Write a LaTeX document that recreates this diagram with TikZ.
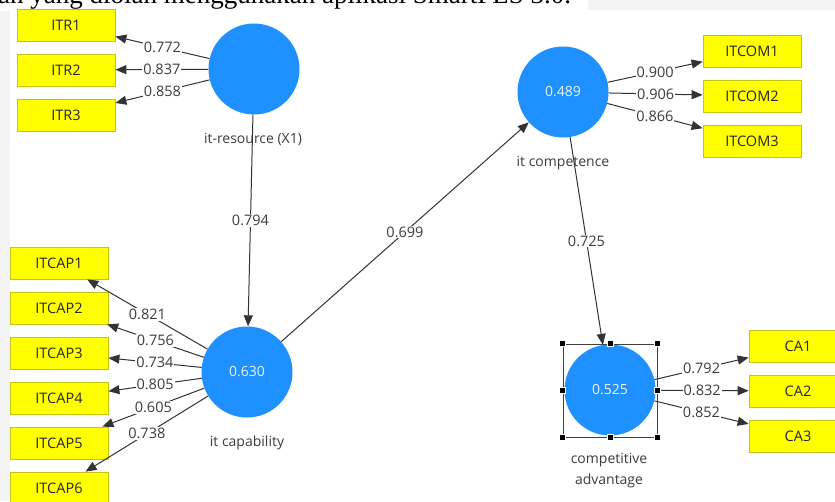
\documentclass[tikz,border=0pt]{standalone}
\usepackage{fontspec}
\newfontfamily\ui{Open Sans}
\newfontfamily\serifx{Liberation Serif}
\usetikzlibrary{arrows.meta}
\definecolor{lvblue}{RGB}{30,144,255}
\definecolor{indyellow}{RGB}{255,255,0}
\definecolor{indborder}{RGB}{196,196,20}
\definecolor{bggrey}{RGB}{243,243,243}
\definecolor{txtgrey}{RGB}{60,60,60}
\begin{document}
\begin{tikzpicture}[x=1pt,y=-1pt,
  latent/.style={circle,fill=lvblue,minimum size=91pt,inner sep=0pt,text=white!92!lvblue,font=\ui\fontsize{14}{16}\selectfont},
  ind/.style={rectangle,fill=indyellow,draw=indborder,line width=0.8pt,minimum width=98pt,minimum height=32pt,inner sep=0pt,font=\ui\fontsize{14.5}{16}\selectfont,text=black!85},
  load/.style={draw=black!80,line width=1pt,-{Triangle[length=11pt,width=9pt]}},
  coef/.style={fill=white,inner sep=1pt,font=\ui\fontsize{14.5}{16}\selectfont,text=txtgrey},
  lvname/.style={font=\ui\fontsize{14}{21}\selectfont,text=txtgrey,align=center,inner sep=0pt},
  selbox/.style={draw=black!75,line width=0.9pt,minimum width=94pt,minimum height=93pt,inner sep=0pt},
  handle/.style={rectangle,fill=black,draw=white,line width=0.4pt,minimum size=6pt,inner sep=0pt}]

\path[use as bounding box] (0,0) rectangle (835,501);
\clip (0,0) rectangle (835,501);
\fill[white] (0,0) rectangle (835,501);
\fill[bggrey] (0,11) rectangle (10,501);
\fill[bggrey] (588,0) rectangle (835,10);
\node[anchor=base west,inner sep=0pt,font=\serifx\fontsize{27}{30}\selectfont] (caption) at (-2,3.5) {an yang diolah menggunakan aplikasi SmartPLS 3.0.};

% latent variables
\node[latent] (res) at (254,69) {};
\node[latent] (cap) at (247,372) {0.630};
\node[latent] (comp) at (563,92) {0.489};
\node[latent] (adv) at (610,390) {0.525};

\node[lvname] (resname) at (253,139) {it-resource (X1)};
\node[lvname] (capname) at (247,443) {it capability};
\node[lvname] (compname) at (563,163) {it competence};
\node[lvname] (advname) at (609,471) {competitive\\advantage};

% indicators
\node[ind] (itr1) at (66,25) {ITR1};
\node[ind] (itr2) at (66,70) {ITR2};
\node[ind] (itr3) at (66,115) {ITR3};

\node[ind] (itcap1) at (59,263) {ITCAP1};
\node[ind] (itcap2) at (59,308) {ITCAP2};
\node[ind] (itcap3) at (59,353) {ITCAP3};
\node[ind] (itcap4) at (59,398) {ITCAP4};
\node[ind] (itcap5) at (59,443) {ITCAP5};
\node[ind] (itcap6) at (59,488) {ITCAP6};

\node[ind] (itcom1) at (752,51) {ITCOM1};
\node[ind] (itcom2) at (752,96) {ITCOM2};
\node[ind] (itcom3) at (752,141) {ITCOM3};

\node[ind] (ca1) at (798,346) {CA1};
\node[ind] (ca2) at (798,391) {CA2};
\node[ind] (ca3) at (798,436) {CA3};

% outer loadings
\draw[load] (res) -- node[coef] {0.772} (itr1);
\draw[load] (res) -- node[coef] {0.837} (itr2);
\draw[load] (res) -- node[coef] {0.858} (itr3);

\draw[load] (cap) -- node[coef] {0.821} (itcap1);
\draw[load] (cap) -- node[coef] {0.756} (itcap2);
\draw[load] (cap) -- node[coef] {0.734} (itcap3);
\draw[load] (cap) -- node[coef] {0.805} (itcap4);
\draw[load] (cap) -- node[coef] {0.605} (itcap5);
\draw[load] (cap) -- node[coef] {0.738} (itcap6);

\draw[load] (comp) -- node[coef] {0.900} (itcom1);
\draw[load] (comp) -- node[coef] {0.906} (itcom2);
\draw[load] (comp) -- node[coef] {0.866} (itcom3);

\draw[load] (adv) -- node[coef] {0.792} (ca1);
\draw[load] (adv) -- node[coef] {0.832} (ca2);
\draw[load] (adv) -- node[coef] {0.852} (ca3);

% structural paths
\draw[load] (res) -- node[coef] {0.794} (cap);
\draw[load] (cap) -- node[coef] {0.699} (comp);
\draw[load] (comp) -- node[coef] {0.725} (adv);

% selection frame
\node[selbox] (sel) at (610,390.5) {};
\foreach \a [count=\i] in {north west,north,north east,east,south east,south,south west,west}
  \node[handle] (h\i) at (sel.\a) {};
\end{tikzpicture}
\end{document}
